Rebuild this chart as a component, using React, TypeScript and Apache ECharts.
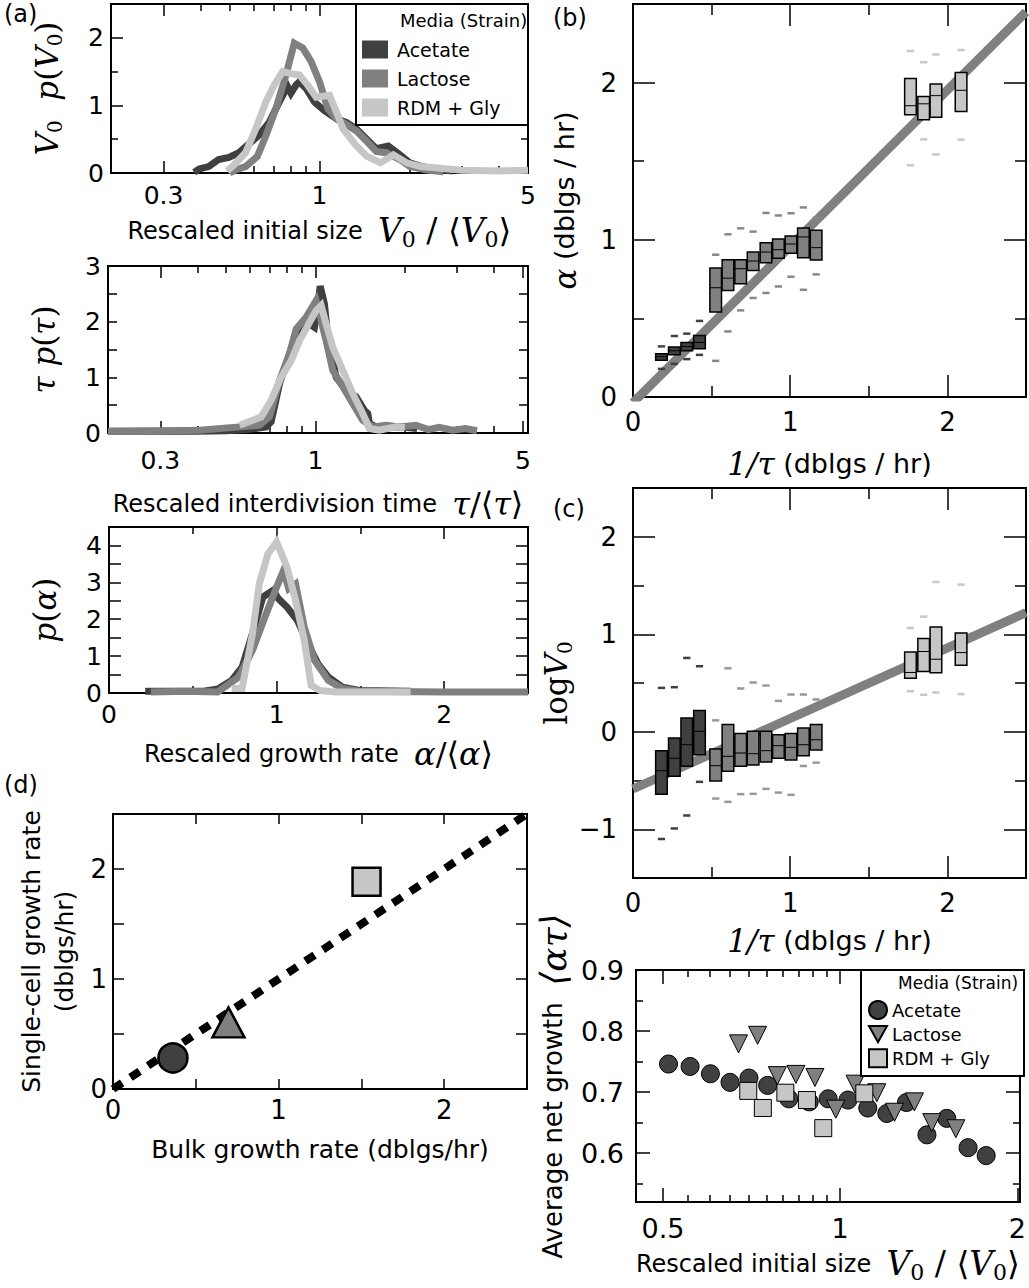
import React, { useEffect, useRef } from 'react';
import * as echarts from 'echarts';

// ---------------- data ----------------
// (a) top: V0 p(V0) vs rescaled initial size (log x)
const a1Acetate: number[][] = [[0.38,0.01],[0.395,0.06],[0.425,0.095],[0.459,0.2],[0.497,0.23],[0.537,0.3],[0.58,0.43],[0.627,0.56],[0.678,0.75],[0.733,1.05],[0.781,1.28],[0.802,1.18],[0.834,1.3],[0.856,1.35],[0.902,1.25],[0.962,1.05],[1.04,0.92],[1.14,0.8],[1.23,0.75],[1.33,0.65],[1.44,0.5],[1.55,0.36],[1.7,0.4],[1.86,0.27],[2.01,0.15],[2.18,0.1],[2.41,0.06],[2.8,0.03]];
const a1Lactose: number[][] = [[0.5,0.0],[0.523,0.045],[0.565,0.095],[0.619,0.245],[0.661,0.55],[0.714,0.95],[0.772,1.45],[0.823,1.92],[0.878,1.85],[0.937,1.65],[1.0,1.35],[1.067,0.95],[1.14,0.8],[1.23,0.72],[1.33,0.62],[1.44,0.47],[1.55,0.32],[1.67,0.3],[1.86,0.2],[2.0,0.1],[2.29,0.045],[2.6,0.02]];
const a1Rdm: number[][] = [[0.49,0.03],[0.51,0.095],[0.565,0.3],[0.611,0.65],[0.661,1.05],[0.705,1.3],[0.752,1.5],[0.802,1.47],[0.856,1.45],[0.913,1.3],[0.975,1.12],[1.08,1.15],[1.14,0.9],[1.2,0.65],[1.33,0.4],[1.44,0.25],[1.6,0.15],[1.77,0.27],[1.96,0.15],[2.18,0.095],[2.54,0.07],[3.0,0.04],[4.0,0.03],[5.0,0.04]];

// (a) middle: tau p(tau) vs rescaled interdivision time (log x)
const a2Acetate: number[][] = [[0.2,0.03],[0.3,0.03],[0.4,0.03],[0.5,0.04],[0.6,0.065],[0.682,0.11],[0.709,0.2],[0.757,0.89],[0.839,1.6],[0.884,1.87],[0.954,1.96],[0.992,1.9],[1.018,2.26],[1.037,2.64],[1.072,2.32],[1.1,1.72],[1.174,1.0],[1.268,0.77],[1.37,0.65],[1.46,0.41],[1.5,0.35],[1.52,0.17],[1.6,0.11],[1.92,0.11],[2.2,0.08]];
const a2Lactose: number[][] = [[0.2,0.03],[0.3,0.04],[0.407,0.05],[0.555,0.11],[0.648,0.14],[0.7,0.29],[0.757,0.95],[0.817,1.42],[0.861,1.87],[0.93,2.08],[1.005,2.38],[1.086,1.66],[1.144,1.125],[1.236,0.83],[1.335,0.53],[1.443,0.23],[1.56,0.11],[1.73,0.14],[1.92,0.11],[2.18,0.14],[2.4,0.06],[2.61,0.1],[2.9,0.05],[3.2,0.08],[3.5,0.04]];
const a2Rdm: number[][] = [[0.555,0.14],[0.657,0.29],[0.709,0.59],[0.766,1.0],[0.828,1.3],[0.884,1.66],[0.942,1.93],[1.005,2.2],[1.045,2.29],[1.086,1.96],[1.144,1.54],[1.236,1.125],[1.335,0.71],[1.443,0.35],[1.52,0.08],[1.64,0.05],[1.87,0.11],[2.0,0.1]];

// (a) bottom: p(alpha) vs rescaled growth rate (linear x)
const a3Acetate: number[][] = [[0.216,0.05],[0.4,0.05],[0.567,0.05],[0.649,0.11],[0.732,0.34],[0.794,0.7],[0.856,1.61],[0.918,2.6],[0.979,2.78],[1.01,2.56],[1.062,2.33],[1.124,1.97],[1.186,1.34],[1.247,0.79],[1.309,0.43],[1.392,0.16],[1.495,0.07],[1.8,0.05]];
const a3Lactose: number[][] = [[0.25,0.03],[0.45,0.05],[0.649,0.03],[0.773,0.43],[0.856,1.16],[0.938,2.15],[1.0,2.87],[1.041,3.32],[1.072,2.83],[1.113,2.96],[1.165,1.79],[1.227,0.88],[1.309,0.34],[1.392,0.12],[1.495,0.05],[2.0,0.03],[2.5,0.03]];
const a3Rdm: number[][] = [[0.732,0.12],[0.794,0.12],[0.856,1.61],[0.897,2.96],[0.948,3.77],[1.0,4.09],[1.062,3.41],[1.113,2.51],[1.165,1.43],[1.206,0.21],[1.258,0.07],[1.35,0.03],[1.8,0.03]];

// (b) alpha vs 1/tau: [x, lowWhisker, q1, median, q3, highWhisker]
const bAcetate: number[][] = [[0.181,0.179,0.234,0.256,0.275,0.322],[0.263,0.211,0.268,0.294,0.318,0.388],[0.342,0.241,0.294,0.321,0.347,0.403],[0.423,0.268,0.307,0.347,0.392,0.484]];
const bLactose: number[][] = [[0.526,0.23,0.541,0.695,0.82,0.905],[0.604,0.417,0.677,0.756,0.873,1.035],[0.685,0.551,0.72,0.816,0.873,1.073],[0.764,0.63,0.805,0.865,0.922,1.052],[0.846,0.662,0.854,0.922,0.982,1.171],[0.925,0.703,0.882,0.937,1.005,1.155],[1.005,0.765,0.914,0.973,1.024,1.169],[1.084,0.682,0.886,1.018,1.075,1.206],[1.165,0.78,0.871,0.95,1.061,1.14]];
const bRdm: number[][] = [[1.765,1.474,1.795,1.853,2.026,2.201],[1.849,1.639,1.763,1.865,1.912,2.13],[1.927,1.543,1.78,1.917,1.991,2.179],[2.087,1.637,1.816,1.951,2.064,2.207]];
const bFitX = [0, 2.5];
const bFitY = [-0.036, 2.45];

// (c) log V0 vs 1/tau
const cAcetate: number[][] = [[0.181,-1.1,-0.64,-0.399,-0.194,0.45],[0.263,-0.992,-0.456,-0.272,-0.064,0.457],[0.342,-0.859,-0.354,-0.133,0.14,0.757],[0.423,-0.514,-0.235,0.004,0.219,0.672]];
const cLactose: number[][] = [[0.526,-0.685,-0.504,-0.348,-0.177,0.117],[0.604,-0.719,-0.405,-0.252,0.075,0.651],[0.685,-0.64,-0.354,-0.218,-0.017,0.444],[0.764,-0.637,-0.341,-0.225,0.004,0.505],[0.846,-0.586,-0.31,-0.194,0.004,0.474],[0.925,-0.624,-0.272,-0.143,-0.031,0.317],[1.005,-0.647,-0.289,-0.16,-0.017,0.382],[1.084,-0.351,-0.245,-0.133,0.038,0.382],[1.165,-0.317,-0.187,-0.082,0.075,0.331]];
const cRdm: number[][] = [[1.765,0.416,0.549,0.608,0.819,1.065],[1.849,0.379,0.618,0.823,0.956,1.181],[1.927,0.403,0.604,0.744,1.075,1.536],[2.087,0.386,0.683,0.812,1.014,1.509]];
const cFitX = [0, 2.5];
const cFitY = [-0.587, 1.222];

// (d) single-cell vs bulk growth rate
const dBulk = [0.362, 0.697, 1.531];
const dSingle = [0.282, 0.606, 1.885];
const dRefX = [0, 2.5];
const dRefY = [0, 2.5];

// (e) average net growth vs rescaled initial size (log x)
const eAcetateX = [0.511,0.556,0.602,0.65,0.7,0.753,0.818,0.886,0.954,1.031,1.114,1.2,1.296,1.404,1.517,1.649,1.77];
const eAcetateY = [0.746,0.742,0.73,0.716,0.723,0.711,0.689,0.684,0.689,0.687,0.674,0.665,0.683,0.63,0.657,0.609,0.596];
const eLactoseX = [0.672,0.724,0.782,0.841,0.906,0.983,1.06,1.154,1.237,1.337,1.431,1.572];
const eLactoseY = [0.779,0.793,0.727,0.729,0.724,0.672,0.713,0.699,0.667,0.684,0.65,0.64];
const eRdmX = [0.698,0.739,0.807,0.878,0.936,1.099];
const eRdmY = [0.702,0.674,0.699,0.687,0.641,0.698];

// tick values
const logMajorA = [0.3, 1];
const logMinorA = [0.4, 0.5, 0.6, 0.7, 0.8, 0.9, 2, 3, 4];
const logLabelsA = [0.3, 1, 5];
const eXLabels = [0.5, 1, 2];
const eXMinor = [0.55, 0.6, 0.65, 0.7, 0.75, 0.8, 0.85, 0.9, 0.95];
const eYLabels = [0.6, 0.7, 0.8, 0.9];

// ---------------- styling ----------------
const C_AC = '#404040';
const C_LA = '#808080';
const C_RDM = '#c6c6c6';
const SANS = 'DejaVu Sans';
const SERIF = 'DejaVu Serif';
const BOX_HALF = 0.037;
const DASH_HALF = 0.023;

const L = (v: number) => Math.log10(v);
const fmtLog = (v: number) => String(Math.round(Math.pow(10, v) * 100) / 100);

const rich = (size: number, msize: number) => {
  const lh = msize + 6;
  const sub = Math.round(msize * 0.66);
  return {
    t: { fontFamily: SANS, fontSize: size, color: '#000', lineHeight: lh, verticalAlign: 'middle' },
    i: { fontFamily: SERIF, fontStyle: 'italic', fontSize: msize, color: '#000', lineHeight: lh, verticalAlign: 'middle' },
    r: { fontFamily: SERIF, fontSize: msize, color: '#000', lineHeight: lh, verticalAlign: 'middle' },
    s: { fontFamily: SERIF, fontSize: sub, color: '#000', lineHeight: sub, verticalAlign: 'bottom' },
  };
};

type AxisSpec = {
  min: number; max: number;
  labels: number[]; major: number[]; minor: number[];
  majorLen: number; minorLen: number;
  fmt?: (v: number) => string;
  fontSize: number; margin: number;
  name?: string; nameGap?: number; nameSize?: number; mathSize?: number;
};

function buildAxes(grid: number, dim: 'x' | 'y', s: AxisSpec) {
  const sides = dim === 'x' ? ['bottom', 'top'] : ['left', 'right'];
  const out: any[] = [];
  const ns = s.nameSize || 24;
  sides.forEach((pos, i) => {
    const base: any = {
      type: 'value', gridIndex: grid, position: pos, min: s.min, max: s.max,
      axisLine: { show: false, onZero: false }, splitLine: { show: false },
    };
    out.push({
      ...base,
      axisTick: { show: true, inside: true, length: s.majorLen, customValues: s.major, lineStyle: { color: '#000', width: 1.5 } },
      axisLabel: i === 0
        ? { show: true, customValues: s.labels, formatter: s.fmt, fontSize: s.fontSize, margin: s.margin, color: '#000', fontFamily: SANS }
        : { show: false },
      name: i === 0 ? s.name : undefined,
      nameLocation: 'middle',
      nameGap: s.nameGap,
      nameTextStyle: { fontSize: ns, color: '#000', fontFamily: SANS, rich: rich(ns, s.mathSize || ns + 4), lineHeight: ns + 8 },
    });
    out.push({
      ...base,
      axisTick: { show: s.minor.length > 0, inside: true, length: s.minorLen, customValues: s.minor.length ? s.minor : [s.min], lineStyle: { color: '#000', width: 1.5 } },
      axisLabel: { show: false },
    });
  });
  return out;
}

const grids = [
  { left: 111, top: 4, width: 417, height: 169 },   // a1
  { left: 108, top: 266, width: 420, height: 167 }, // a2
  { left: 109, top: 527, width: 419, height: 166 }, // a3
  { left: 633, top: 4, width: 393, height: 393 },   // b
  { left: 633, top: 488, width: 393, height: 390 }, // c
  { left: 113, top: 814, width: 414, height: 275 }, // d
  { left: 636, top: 970, width: 388, height: 232 }, // e
].map((g) => ({ ...g, show: true, borderColor: '#000', borderWidth: 2, backgroundColor: 'transparent' }));

const xAxes: any[] = [];
const yAxes: any[] = [];
const addGrid = (g: number, xs: AxisSpec, ys: AxisSpec) => {
  xAxes.push(...buildAxes(g, 'x', xs));
  yAxes.push(...buildAxes(g, 'y', ys));
};

const V0 = '{i|V}{s|0}';

// a1
addGrid(0,
  { min: L(0.2), max: L(5), labels: logLabelsA.map(L), major: logMajorA.map(L), minor: logMinorA.map(L), majorLen: 12, minorLen: 7, fmt: fmtLog, fontSize: 25, margin: 10,
    name: `{t|Rescaled initial size  }${V0}{r| / ⟨}${V0}{r|⟩}`, nameGap: 38, nameSize: 24, mathSize: 33 },
  { min: 0, max: 2.5, labels: [0, 1, 2], major: [1, 2], minor: [0.5, 1.5], majorLen: 12, minorLen: 7, fontSize: 25, margin: 7,
    name: `${V0}{i|  p}{r|(}${V0}{r|)}`, nameGap: 46, nameSize: 26, mathSize: 31 });
// a2
addGrid(1,
  { min: L(0.2), max: L(5.2), labels: logLabelsA.map(L), major: [0.3, 1, 5].map(L), minor: logMinorA.map(L), majorLen: 12, minorLen: 7, fmt: fmtLog, fontSize: 25, margin: 15,
    name: '{t|Rescaled interdivision time  }{i|τ}{r|/⟨}{i|τ}{r|⟩}', nameGap: 52, nameSize: 24, mathSize: 32 },
  { min: 0, max: 3, labels: [0, 1, 2, 3], major: [0.5, 1, 1.5, 2, 2.5], minor: [], majorLen: 9, minorLen: 9, fontSize: 25, margin: 7,
    name: '{i|τ p}{r|(}{i|τ}{r|)}', nameGap: 46, nameSize: 26, mathSize: 31 });
// a3
addGrid(2,
  { min: 0, max: 2.5, labels: [0, 1, 2], major: [1, 2], minor: [0.5, 1.5], majorLen: 12, minorLen: 7, fontSize: 25, margin: 9,
    name: '{t|Rescaled growth rate  }{i|α}{r|/⟨}{i|α}{r|⟩}', nameGap: 42, nameSize: 24, mathSize: 32 },
  { min: 0, max: 4.5, labels: [0, 1, 2, 3, 4], major: [0.5, 1, 1.5, 2, 2.5, 3, 3.5, 4], minor: [], majorLen: 12, minorLen: 12, fontSize: 25, margin: 7,
    name: '{i|p}{r|(}{i|α}{r|)}', nameGap: 46, nameSize: 26, mathSize: 31 });
// b
addGrid(3,
  { min: 0, max: 2.5, labels: [0, 1, 2], major: [1, 2], minor: [0.5, 1.5], majorLen: 22, minorLen: 11, fontSize: 26, margin: 12,
    name: '{i|1/τ}{t| (dblgs / hr)}', nameGap: 48, nameSize: 27, mathSize: 31 },
  { min: 0, max: 2.5, labels: [0, 1, 2], major: [1, 2], minor: [0.5, 1.5], majorLen: 22, minorLen: 11, fontSize: 26, margin: 16,
    name: '{i|α}{t| (dblgs / hr)}', nameGap: 50, nameSize: 27, mathSize: 31 });
// c
addGrid(4,
  { min: 0, max: 2.5, labels: [0, 1, 2], major: [1, 2], minor: [0.5, 1.5], majorLen: 22, minorLen: 11, fontSize: 26, margin: 12,
    name: '{i|1/τ}{t| (dblgs / hr)}', nameGap: 44, nameSize: 27, mathSize: 31 },
  { min: -1.5, max: 2.5, labels: [-1, 0, 1, 2], major: [-1, 0, 1, 2], minor: [-0.5, 0.5, 1.5], majorLen: 22, minorLen: 11, fontSize: 26, margin: 16,
    fmt: (v: number) => (v < 0 ? '−' + Math.abs(v) : String(v)),
    name: `{r|log}${V0}`, nameGap: 48, nameSize: 27, mathSize: 31 });
// d
addGrid(5,
  { min: 0, max: 2.5, labels: [0, 1, 2], major: [0.5, 1, 1.5, 2], minor: [], majorLen: 10, minorLen: 10, fontSize: 26, margin: 8,
    name: 'Bulk growth rate (dblgs/hr)', nameGap: 44, nameSize: 25 },
  { min: 0, max: 2.5, labels: [0, 1, 2], major: [0.5, 1, 1.5, 2], minor: [], majorLen: 11, minorLen: 11, fontSize: 26, margin: 6,
    name: 'Single-cell growth rate\n(dblgs/hr)', nameGap: 32, nameSize: 25 });
// e
addGrid(6,
  { min: L(0.45), max: L(2.02), labels: eXLabels.map(L), major: eXLabels.map(L), minor: eXMinor.map(L), majorLen: 14, minorLen: 7, fmt: fmtLog, fontSize: 27, margin: 13,
    name: `{t|Rescaled initial size  }${V0}{r| / ⟨}${V0}{r|⟩}`, nameGap: 42, nameSize: 24, mathSize: 33 },
  { min: 0.52, max: 0.9, labels: eYLabels, major: [0.6, 0.7, 0.8], minor: [0.55, 0.65, 0.75, 0.85], majorLen: 14, minorLen: 7, fontSize: 27, margin: 12,
    fmt: (v: number) => v.toFixed(1),
    name: '{t|Average net growth  }{i|⟨ατ⟩}', nameGap: 62, nameSize: 26, mathSize: 36 });

const ax = (g: number) => ({ xAxisIndex: g * 4, yAxisIndex: g * 4 });

const lineSeries = (g: number, name: string, data: number[][], color: string, logX: boolean) => ({
  type: 'line', name, ...ax(g),
  data: data.map((p) => [logX ? L(p[0]) : p[0], p[1]]),
  showSymbol: false, symbol: 'none',
  lineStyle: { color, width: 7, join: 'miter' },
  itemStyle: { color },
  z: 3,
});

const boxSeries = (g: number, name: string, data: number[][], fill: string, dash: string) => ({
  type: 'custom', name, ...ax(g), data, z: 5,
  encode: { x: 0, y: [1, 2, 3, 4, 5] },
  renderItem: (_p: any, api: any) => {
    const x = api.value(0), lo = api.value(1), q1 = api.value(2), med = api.value(3), q3 = api.value(4), hi = api.value(5);
    const p1 = api.coord([x - BOX_HALF, q3]);
    const p2 = api.coord([x + BOX_HALF, q1]);
    const m1 = api.coord([x - BOX_HALF, med]);
    const m2 = api.coord([x + BOX_HALF, med]);
    const l1 = api.coord([x - DASH_HALF, lo]);
    const l2 = api.coord([x + DASH_HALF, lo]);
    const h1 = api.coord([x - DASH_HALF, hi]);
    const h2 = api.coord([x + DASH_HALF, hi]);
    return {
      type: 'group',
      children: [
        { type: 'line', shape: { x1: l1[0], y1: l1[1], x2: l2[0], y2: l2[1] }, style: { stroke: dash, lineWidth: 2.5 } },
        { type: 'line', shape: { x1: h1[0], y1: h1[1], x2: h2[0], y2: h2[1] }, style: { stroke: dash, lineWidth: 2.5 } },
        { type: 'rect', shape: { x: p1[0], y: p1[1], width: p2[0] - p1[0], height: p2[1] - p1[1] }, style: { fill, stroke: '#000', lineWidth: 1.5 } },
        { type: 'line', shape: { x1: m1[0], y1: m1[1], x2: m2[0], y2: m2[1] }, style: { stroke: '#000', lineWidth: 1 } },
      ],
    };
  },
});

const fitSeries = (g: number, xs: number[], ys: number[]) => ({
  type: 'line', name: 'fit' + g, ...ax(g),
  data: xs.map((x, i) => [x, ys[i]]),
  symbol: 'none', lineStyle: { color: '#808080', width: 9, cap: 'butt' }, z: 2, silent: true,
});

const series: any[] = [
  lineSeries(0, 'Acetate', a1Acetate, C_AC, true),
  lineSeries(0, 'Lactose', a1Lactose, C_LA, true),
  lineSeries(0, 'RDM + Gly', a1Rdm, C_RDM, true),
  lineSeries(1, 'Acetate', a2Acetate, C_AC, true),
  lineSeries(1, 'Lactose', a2Lactose, C_LA, true),
  lineSeries(1, 'RDM + Gly', a2Rdm, C_RDM, true),
  lineSeries(2, 'Acetate', a3Acetate, C_AC, false),
  lineSeries(2, 'Lactose', a3Lactose, C_LA, false),
  lineSeries(2, 'RDM + Gly', a3Rdm, C_RDM, false),
  fitSeries(3, bFitX, bFitY),
  boxSeries(3, 'b-ac', bAcetate, C_AC, C_AC),
  boxSeries(3, 'b-la', bLactose, C_LA, '#888888'),
  boxSeries(3, 'b-rdm', bRdm, C_RDM, '#c8c8c8'),
  fitSeries(4, cFitX, cFitY),
  boxSeries(4, 'c-ac', cAcetate, C_AC, C_AC),
  boxSeries(4, 'c-la', cLactose, C_LA, '#999999'),
  boxSeries(4, 'c-rdm', cRdm, C_RDM, '#c8c8c8'),
  {
    type: 'line', name: 'd-ref', ...ax(5), data: dRefX.map((x, i) => [x, dRefY[i]]), symbol: 'none',
    lineStyle: { color: '#000', width: 8, type: [11, 10], cap: 'butt' }, z: 2,
  },
  { type: 'scatter', name: 'd-ac', ...ax(5), data: [[dBulk[0], dSingle[0]]], symbol: 'circle', symbolSize: 29,
    itemStyle: { color: C_AC, borderColor: '#000', borderWidth: 2.5, opacity: 1 }, z: 4 },
  { type: 'scatter', name: 'd-la', ...ax(5), data: [[dBulk[1], dSingle[1]]], symbol: 'triangle', symbolSize: [32, 30],
    itemStyle: { color: C_LA, borderColor: '#000', borderWidth: 2.5, opacity: 1 }, z: 4 },
  { type: 'scatter', name: 'd-rdm', ...ax(5), data: [[dBulk[2], dSingle[2]]], symbol: 'rect', symbolSize: 28,
    itemStyle: { color: C_RDM, borderColor: '#000', borderWidth: 2.5, opacity: 1 }, z: 4 },
  { type: 'scatter', name: 'Acetate ', ...ax(6), data: eAcetateX.map((x, i) => [L(x), eAcetateY[i]]), symbol: 'circle', symbolSize: 18,
    itemStyle: { color: C_AC, borderColor: '#000', borderWidth: 1, opacity: 1 }, z: 4 },
  { type: 'scatter', name: 'Lactose ', ...ax(6), data: eLactoseX.map((x, i) => [L(x), eLactoseY[i]]), symbol: 'triangle', symbolRotate: 180, symbolSize: 18,
    itemStyle: { color: C_LA, borderColor: '#000', borderWidth: 1, opacity: 1 }, z: 4 },
  { type: 'scatter', name: 'RDM + Gly ', ...ax(6), data: eRdmX.map((x, i) => [L(x), eRdmY[i]]), symbol: 'rect', symbolSize: 17,
    itemStyle: { color: C_RDM, borderColor: '#000', borderWidth: 1, opacity: 1 }, z: 4 },
];

const panelLabel = (text: string, x: number, y: number) => ({
  type: 'text', x, y, z: 30,
  style: { text, font: `24px ${SANS}`, fill: '#000' },
});

const option: any = {
  animation: false,
  textStyle: { fontFamily: SANS },
  grid: grids,
  xAxis: xAxes,
  yAxis: yAxes,
  series,
  legend: [
    {
      orient: 'vertical', left: 362, top: 40, icon: 'rect', itemWidth: 26, itemHeight: 18, itemGap: 10, z: 30, padding: 0,
      textStyle: { fontSize: 19, color: '#000', fontFamily: SANS, padding: [0, 0, 0, 4] },
      data: ['Acetate', 'Lactose', 'RDM + Gly'], selectedMode: false,
    },
    {
      orient: 'vertical', left: 868, top: 1000, itemWidth: 18, itemHeight: 18, itemGap: 5, z: 30, padding: 0,
      textStyle: { fontSize: 18, color: '#000', fontFamily: SANS },
      data: [
        { name: 'Acetate ' },
        { name: 'Lactose ', icon: 'path://M0,0L20,0L10,18Z' },
        { name: 'RDM + Gly ' },
      ],
      selectedMode: false,
    },
  ],
  graphic: [
    { type: 'rect', z: 20, shape: { x: 356, y: 4, width: 172, height: 121 }, style: { fill: '#fff', stroke: '#000', lineWidth: 2 } },
    { type: 'text', z: 31, x: 400, y: 11, style: { text: 'Media (Strain)', font: `18px ${SANS}`, fill: '#000' } },
    { type: 'rect', z: 20, shape: { x: 861, y: 970, width: 163, height: 106 }, style: { fill: '#fff', stroke: '#000', lineWidth: 2 } },
    { type: 'text', z: 31, x: 898, y: 974, style: { text: 'Media (Strain)', font: `17px ${SANS}`, fill: '#000' } },
    panelLabel('(a)', 4, 2),
    panelLabel('(b)', 553, 6),
    panelLabel('(c)', 553, 497),
    panelLabel('(d)', 4, 773),
  ],
};

export default function App() {
  const ref = useRef<HTMLDivElement>(null);
  useEffect(() => {
    const chart = echarts.init(ref.current as HTMLDivElement, null, { renderer: 'svg' });
    chart.setOption(option);
    return () => chart.dispose();
  }, []);
  return <div ref={ref} style={{ position: 'absolute', left: 0, top: 0, width: 1029, height: 1288, background: '#fff' }} />;
}
